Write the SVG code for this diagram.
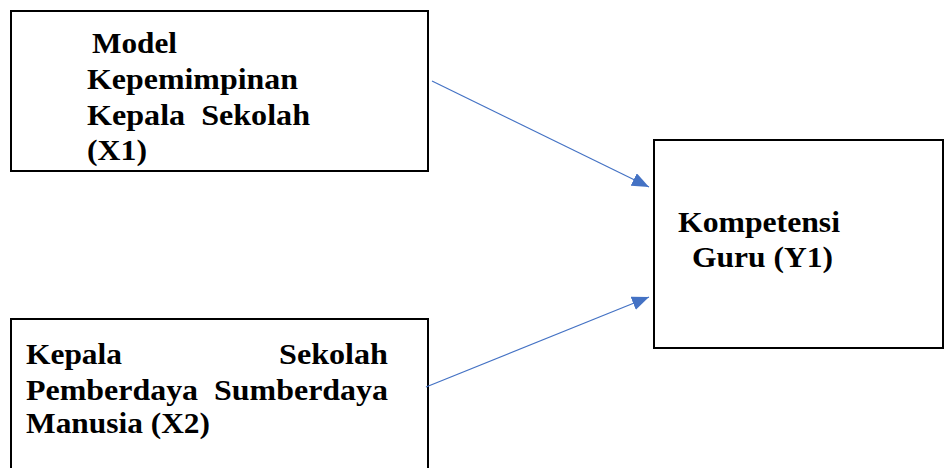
<svg xmlns="http://www.w3.org/2000/svg" width="945" height="468" viewBox="0 0 945 468">
<style>
.box{fill:#fff;stroke:#000;stroke-width:2}
.t{font-family:"Liberation Serif","Times New Roman",serif;font-weight:bold;font-size:30px;fill:#000}
.c{stroke:#4472C4;stroke-width:1.2;fill:none}
</style>
<defs>
<marker id="ah" markerUnits="userSpaceOnUse" markerWidth="18" markerHeight="14" refX="17" refY="7" orient="auto">
<path d="M0,0 L17,7 L0,14 Z" fill="#4472C4"/>
</marker>
</defs>
<rect width="945" height="468" fill="#fff"/>
<g id="x1">
<rect class="box" x="11" y="11" width="417" height="160"/>
<text class="t" x="92" y="53" textLength="85" lengthAdjust="spacingAndGlyphs">Model</text>
<text class="t" x="87" y="89" textLength="211" lengthAdjust="spacingAndGlyphs">Kepemimpinan</text>
<text class="t" x="87" y="125" textLength="223" lengthAdjust="spacingAndGlyphs" xml:space="preserve">Kepala  Sekolah</text>
<text class="t" x="87" y="160" textLength="60" lengthAdjust="spacingAndGlyphs">(X1)</text>
</g>
<g id="y1">
<rect class="box" x="654" y="140" width="289" height="208"/>
<text class="t" x="678" y="232" textLength="162" lengthAdjust="spacingAndGlyphs">Kompetensi</text>
<text class="t" x="692" y="267" textLength="141" lengthAdjust="spacingAndGlyphs">Guru (Y1)</text>
</g>
<g id="x2">
<rect class="box" x="11" y="319" width="417" height="160"/>
<text class="t" x="26" y="364" textLength="96" lengthAdjust="spacingAndGlyphs">Kepala</text>
<text class="t" x="279" y="364" textLength="109" lengthAdjust="spacingAndGlyphs">Sekolah</text>
<text class="t" x="26" y="400" textLength="362" lengthAdjust="spacingAndGlyphs" xml:space="preserve">Pemberdaya  Sumberdaya</text>
<text class="t" x="26" y="433" textLength="184" lengthAdjust="spacingAndGlyphs">Manusia (X2)</text>
</g>
<g id="connectors">
<line class="c" x1="432" y1="81" x2="649" y2="187" marker-end="url(#ah)"/>
<line class="c" x1="426" y1="387" x2="649" y2="297" marker-end="url(#ah)"/>
</g>
</svg>
